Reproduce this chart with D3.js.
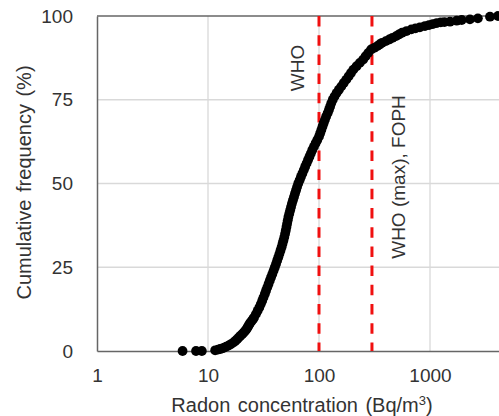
<!DOCTYPE html>
<html><head><meta charset="utf-8">
<script src="https://cdn.jsdelivr.net/npm/d3@7"></script>
<style>
html,body{margin:0;padding:0;background:#fff;overflow:hidden}
svg{display:block;font-family:"Liberation Sans",Arial,sans-serif}
</style></head>
<body>
<svg id="c" width="499" height="416"></svg>
<script>
// Radon concentration (Bq/m3) and cumulative frequency (%)
const conc = [5.9,7.8,8.8,11.6,12.3,12.9,13.5,14.0,14.6,15.3,16.0,16.9,17.6,18.3,18.9,19.5,20.3,21.0,21.6,22.2,22.7,23.1,23.6,24.1,24.8,25.4,
  26.0,27.0,28.0,29.0,29.9,30.8,31.6,32.5,33.3,34.2,35.1,36.0,37.0,38.0,39.0,40.0,41.0,42.0,43.0,44.0,45.0,46.0,46.9,47.8,48.7,49.5,
  50.2,50.9,51.6,52.3,53.0,54.0,55.0,56.0,57.0,58.2,59.5,60.8,62.1,63.5,65.0,66.9,68.8,70.8,72.9,75.0,77.3,79.6,82.0,84.5,87.0,90.0,
  93.2,96.5,100,102.5,105,107.5,110,113,116,119.5,123,126,129,133,138,144,151,159,167,176,185,194,204,218,233,250,263,278,295,
  315,335,352,370,400,430,460,495,525,560,615,680,740,810,900,980,1060,1150,1250,1350,1514,1740,1930,2290,2700,3470,4100];
const freq = [0,0,0,0.2,0.4,0.6,0.8,1.0,1.3,1.6,2.0,2.5,3.0,3.5,4.0,4.5,5.0,5.5,6.0,6.5,7.0,7.5,8.0,8.5,9.0,9.5,
  10,11,12,13,14,15,16,17,18,19,20,21,22,23,24,25,26,27,28,29,30,31,32,33,34,35,
  36,37,38,39,40,41,42,43,44,45,46,47,48,49,50,51,52,53,54,55,56,57,58,59,60,61,
  62,63,64,65,66,67,68,69,70,71,72,73,74,75,76,77,78,79,80,81,82,83,84,85,86,87,88,89,90,
  90.5,91,91.5,92,92.5,93,93.5,94,94.5,95,95.5,96,96.3,96.6,97,97.3,97.6,97.9,98.1,98.2,98.3,98.6,98.8,99.0,99.3,99.8,100];
const xTicks = [1,10,100,1000];
const yTicks = [0,25,50,75,100];
const limits = [100,300];
const limitLabels = ["WHO","WHO (max), FOPH"];

const svg = d3.select("#c");
const L=97, R=541, T=16, B=351;
const x = d3.scaleLog().domain([1,10000]).range([L,R]);
const y = d3.scaleLinear().domain([0,100]).range([B,T]);
const txt = "#333";

// gridlines
svg.append("g").selectAll("line").data(yTicks.filter(d=>d>0&&d<100)).join("line")
  .attr("x1",L).attr("x2",R).attr("y1",d=>y(d)).attr("y2",d=>y(d))
  .attr("stroke","#d9d9d9").attr("stroke-width",1.3);
svg.append("g").selectAll("line").data(xTicks.filter(d=>d>1)).join("line")
  .attr("x1",d=>x(d)).attr("x2",d=>x(d)).attr("y1",T).attr("y2",B)
  .attr("stroke","#d9d9d9").attr("stroke-width",1.3);

// axes via d3
const xAxis = svg.append("g").attr("transform",`translate(0,${B})`)
  .call(d3.axisBottom(x).tickValues(xTicks).tickFormat(d3.format("d")).tickSize(0).tickPadding(18));
xAxis.select(".domain").attr("stroke","#666").attr("stroke-width",1.5);
xAxis.selectAll("text").attr("font-size",19).attr("fill",txt).attr("font-family","Liberation Sans, Arial, sans-serif");
const yAxis = svg.append("g").attr("transform",`translate(${L},0)`)
  .call(d3.axisLeft(y).tickValues(yTicks).tickSize(0).tickPadding(24));
yAxis.select(".domain").attr("stroke","#666").attr("stroke-width",1.5);
yAxis.selectAll("text").attr("font-size",19).attr("fill",txt).attr("font-family","Liberation Sans, Arial, sans-serif");
// top border
svg.append("line").attr("x1",L).attr("x2",R).attr("y1",T).attr("y2",T).attr("stroke","#666").attr("stroke-width",1.5);

// limit lines
svg.append("g").selectAll("line").data(limits).join("line")
  .attr("x1",d=>x(d)).attr("x2",d=>x(d)).attr("y1",T).attr("y2",B)
  .attr("stroke","#f01010").attr("stroke-width",3).attr("stroke-dasharray","10.5,8.7");

// points
const pts = conc.map((c,i)=>({c, f:freq[i]}));
svg.append("g").selectAll("circle").data(pts).join("circle")
  .attr("cx",d=>x(d.c)).attr("cy",d=>y(d.f)).attr("r",4.9).attr("fill","#000");

// limit labels
svg.append("text").attr("transform",`translate(${x(limits[0])-15.5},68) rotate(-90)`)
  .attr("text-anchor","middle").attr("font-size",19).attr("fill",txt).text(limitLabels[0]);
svg.append("text").attr("transform",`translate(${x(limits[1])+33.5},177) rotate(-90)`)
  .attr("text-anchor","middle").attr("font-size",19).attr("fill",txt).text(limitLabels[1]);

// titles
svg.append("text").attr("transform","translate(30.5,182.5) rotate(-90)")
  .attr("text-anchor","middle").attr("font-size",20).attr("fill",txt).attr("word-spacing",2).text("Cumulative frequency (%)");
const xt = svg.append("text").attr("x",302).attr("y",411.5).attr("text-anchor","middle").attr("font-size",20).attr("fill",txt).attr("word-spacing",2);
xt.append("tspan").text("Radon concentration (Bq/m");
xt.append("tspan").attr("font-size",13).attr("dy",-7).text("3");
xt.append("tspan").attr("dy",7).text(")");
</script>
</body></html>
